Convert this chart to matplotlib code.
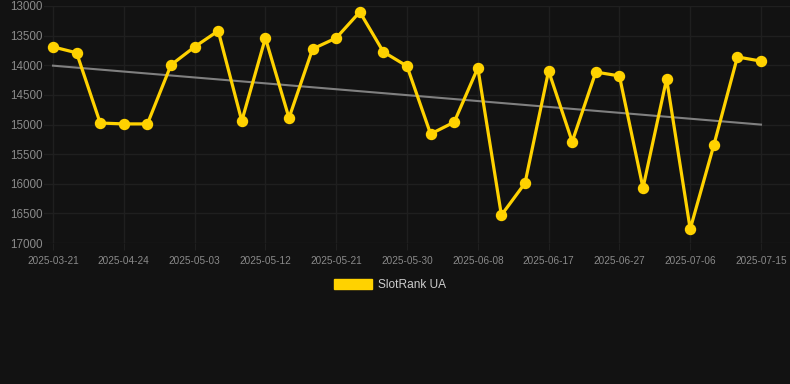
import numpy as np
import matplotlib
matplotlib.use("Agg")
import matplotlib.pyplot as plt
from matplotlib.patches import Patch

plt.rcParams['font.family'] = ['Liberation Sans', 'DejaVu Sans']

# Rank values (lower is better, axis is inverted)
ranks = [13690, 13790, 14975, 14990, 14990, 13995, 13690, 13420, 14940, 13540,
         14890, 13725, 13540, 13100, 13775, 14015, 15160, 14960, 14045, 16530,
         15990, 14095, 15290, 14115, 14180, 16070, 14230, 16765, 15350, 13860,
         13930]
tick_labels = ['2025-03-21', '2025-04-24', '2025-05-03', '2025-05-12', '2025-05-21',
               '2025-05-30', '2025-06-08', '2025-06-17', '2025-06-27', '2025-07-06',
               '2025-07-15']
y_ticks = [13000, 13500, 14000, 14500, 15000, 15500, 16000, 16500, 17000]

bg = '#121212'
grid_c = '#1f1f1f'
gold = '#FFD200'

fig = plt.figure(figsize=(7.9, 3.84), dpi=100, facecolor=bg)
ax = fig.add_axes([44/790, 1 - 243/384, 746/790, 237/384], facecolor=bg)

x = np.arange(len(ranks))
# trend line (linear fit)
k, b = np.polyfit(x, ranks, 1)
ax.plot(x, k*x + b, color='#808080', lw=1.5, zorder=2)

ax.plot(x, ranks, color=gold, lw=2.3, marker='o', ms=7.2, zorder=3)

ax.set_ylim(17000, 13000)
ax.set_xlim(-9/23.6, 30 + 29/23.6)
ax.set_yticks(y_ticks)
ax.set_yticklabels([str(v) for v in y_ticks])
ax.set_xticks(x[::3])
ax.set_xticklabels(tick_labels)

ax.grid(True, color=grid_c, lw=1)
ax.set_axisbelow(True)
for s in ax.spines.values():
    s.set_visible(False)
ax.tick_params(axis='y', length=0, pad=1, labelsize=8.4, labelcolor='#8a8a8a')
ax.tick_params(axis='x', length=5, color=grid_c, pad=4.5, labelsize=7.2, labelcolor='#8a8a8a')

leg = fig.legend(handles=[Patch(facecolor=gold, edgecolor=gold, label='SlotRank UA')],
                 loc='center', bbox_to_anchor=(390/790, 1 - 285/384), frameon=False,
                 fontsize=8.6, handlelength=3.25, handleheight=1.0, handletextpad=0.5)
for t in leg.get_texts():
    t.set_color('#cccccc')

fig.savefig('out.png', dpi=100, facecolor=bg)
